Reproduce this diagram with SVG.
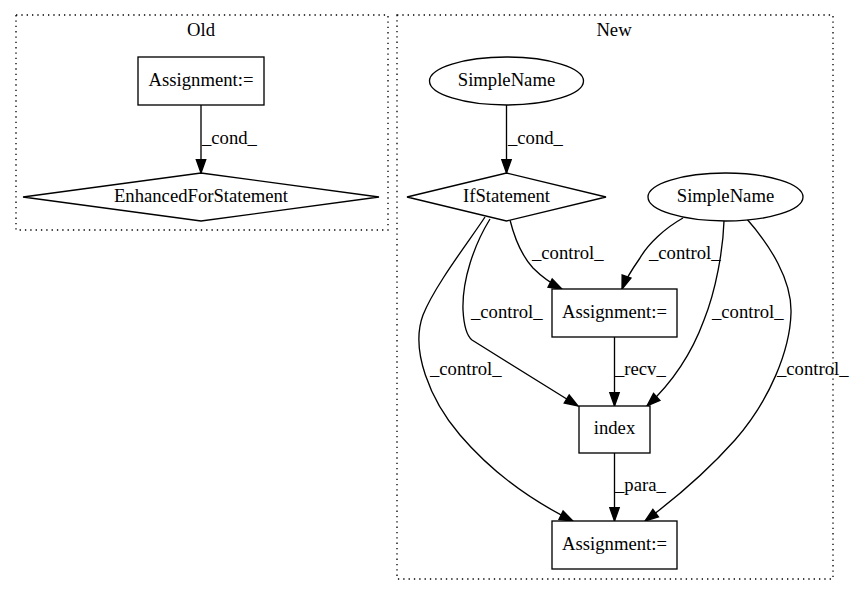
<svg xmlns="http://www.w3.org/2000/svg" width="851" height="596" viewBox="0 0 851 596">
<style>
text{font-family:'Liberation Serif','DejaVu Serif',serif;font-size:18.67px;fill:#000}
.c{text-anchor:middle}
.cl{fill:none;stroke:#000;stroke-width:1.33;stroke-dasharray:1.33,4}
.n{fill:#fff;stroke:#000;stroke-width:1.33}
.e{fill:none;stroke:#000;stroke-width:1.33;marker-end:url(#ah)}
</style>
<defs>
<marker id="ah" markerUnits="userSpaceOnUse" markerWidth="16" markerHeight="12" refX="13.3" refY="4.7" orient="auto" overflow="visible">
<path d="M0,0 L13.3,4.7 L0,9.4 z" fill="#000" stroke="#000" stroke-width="1.33"/>
</marker>
</defs>
<rect width="851" height="596" fill="#fff"/>
<g id="cluster_old">
<rect class="cl" x="16" y="15" width="372" height="215"/>
<text class="c" x="201" y="36">Old</text>
</g>
<g id="cluster_new">
<rect class="cl" x="397" y="15" width="436" height="564"/>
<text class="c" x="614" y="36">New</text>
</g>
<g id="connectors">
<path class="e" d="M201,105 L201,173"/>
<text x="202" y="144">_cond_</text>
<path class="e" d="M506.5,105 L506.5,173"/>
<text x="508" y="144">_cond_</text>
<path class="e" d="M510,220 C515,240 522,256 533,268 C541,276 550,283 562,289"/>
<text x="532" y="259">_control_</text>
<path class="e" d="M683,218 C665,228 648,244 640,258 C633,268 626,278 622,289"/>
<text x="649" y="259">_control_</text>
<path class="e" d="M490,219 C474,245 462,280 463,310 C464,328 467,336 472,340 L578,406"/>
<text x="471" y="318">_control_</text>
<path class="e" d="M724,221 C723,250 716,290 704,320 C693,350 675,380 647,406"/>
<text x="712" y="318">_control_</text>
<path class="e" d="M485,217 C470,240 435,285 423,315 C410,350 430,400 460,435 C490,470 530,500 573,521"/>
<text x="430" y="375">_control_</text>
<path class="e" d="M746,218 C770,245 792,280 791,313 C790,350 770,400 735,440 C710,468 680,495 645,521"/>
<text x="777" y="375">_control_</text>
<path class="e" d="M614.5,337 L614.5,406"/>
<text x="615" y="375">_recv_</text>
<path class="e" d="M614.5,453 L614.5,521"/>
<text x="615" y="491">_para_</text>
</g>
<g id="old_assignment">
<rect class="n" x="138" y="57" width="126" height="48"/>
<text class="c" x="201" y="86">Assignment:=</text>
</g>
<g id="old_enhancedfor">
<polygon class="n" points="201,173 379,197 201,221 23,197"/>
<text class="c" x="201" y="202">EnhancedForStatement</text>
</g>
<g id="new_simplename1">
<ellipse class="n" cx="506.5" cy="81" rx="77" ry="24"/>
<text class="c" x="506.5" y="86">SimpleName</text>
</g>
<g id="new_ifstatement">
<polygon class="n" points="506.5,173 606,197 506.5,221 407,197"/>
<text class="c" x="506.5" y="202">IfStatement</text>
</g>
<g id="new_simplename2">
<ellipse class="n" cx="725.5" cy="197" rx="77.5" ry="24"/>
<text class="c" x="725.5" y="202">SimpleName</text>
</g>
<g id="new_assignment1">
<rect class="n" x="552" y="289" width="125" height="48"/>
<text class="c" x="614.5" y="318">Assignment:=</text>
</g>
<g id="new_index">
<rect class="n" x="579" y="406" width="71" height="47"/>
<text class="c" x="614.5" y="434">index</text>
</g>
<g id="new_assignment2">
<rect class="n" x="552" y="521" width="125" height="48"/>
<text class="c" x="614.5" y="550">Assignment:=</text>
</g>
</svg>
